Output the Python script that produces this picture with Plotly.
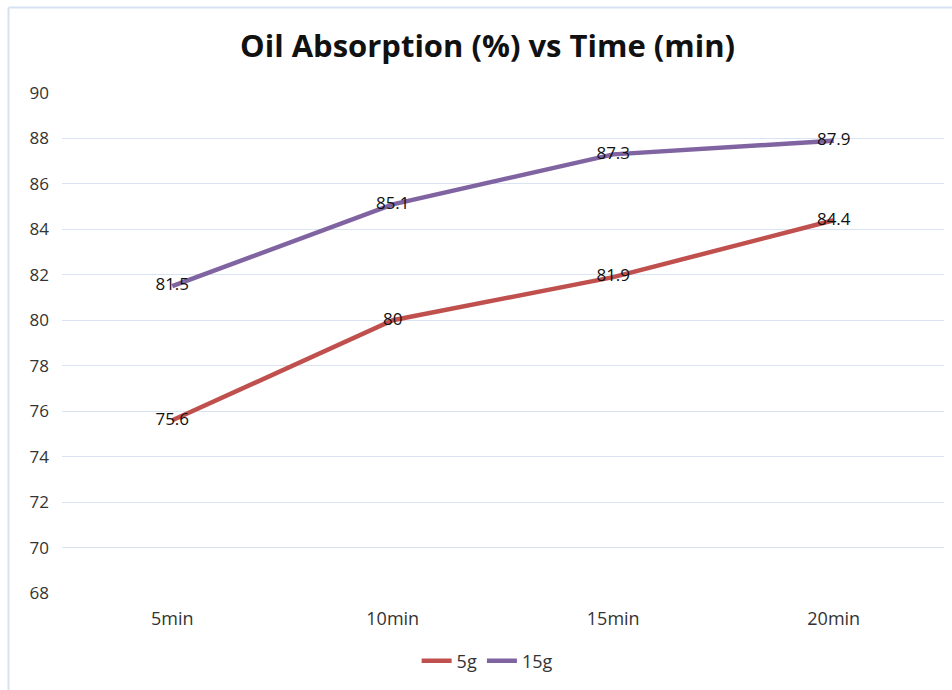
import plotly.graph_objects as go

# Frying time categories and oil absorption per sample weight
times = ["5min", "10min", "15min", "20min"]
absorption_5g = [75.6, 80, 81.9, 84.4]
absorption_15g = [81.5, 85.1, 87.3, 87.9]
y_ticks = [68, 70, 72, 74, 76, 78, 80, 82, 84, 86, 88, 90]

FONT = "Open Sans"
RED = "#C0504D"
PURPLE = "#8064A2"
GRID = "#D9E3F1"

fig = go.Figure()
for name, vals, color in [("5g", absorption_5g, RED), ("15g", absorption_15g, PURPLE)]:
    fig.add_trace(go.Scatter(
        x=times, y=vals, name=name,
        mode="lines+text",
        text=[f"{v:g}" for v in vals],
        textposition="middle center",
        textfont=dict(family=FONT, size=17, color="#111111"),
        line=dict(color=color, width=4.5),
        cliponaxis=False,
    ))

fig.update_layout(
    width=952, height=690,
    margin=dict(l=62, r=8, t=93, b=97),
    paper_bgcolor="white", plot_bgcolor="white",
    font=dict(family=FONT, size=18, color="#333333"),
    annotations=[dict(
        text="<b>Oil Absorption (%) vs Time (min)</b>",
        xref="paper", yref="paper", x=0.482, y=1.0 + (93 - 45) / 500,
        xanchor="center", yanchor="middle", showarrow=False,
        font=dict(family=FONT, size=31, color="#111111"),
    )],
    xaxis=dict(
        type="category", range=[-0.5, 3.5],
        showgrid=False, zeroline=False, showline=False,
        ticks="", tickfont=dict(family=FONT, size=18, color="#333333"),
        ticklabelstandoff=13,
    ),
    yaxis=dict(
        range=[68, 90], tickvals=y_ticks,
        showgrid=True, gridcolor=GRID, gridwidth=1.3,
        zeroline=False, showline=False, ticks="",
        tickfont=dict(family=FONT, size=17, color="#333333"),
        ticklabelstandoff=12,
    ),
    showlegend=True,
    legend=dict(
        orientation="h", x=0.482, y=(593 - 661) / 500,
        xanchor="center", yanchor="middle",
        font=dict(family=FONT, size=18, color="#333333"),
        itemwidth=30, tracegroupgap=0,
    ),
    shapes=[
        dict(type="line", xref="paper", yref="paper",
             x0=(8.5 - 62) / 882, x1=(8.5 - 62) / 882,
             y0=(593 - 700) / 500, y1=1 + (93 - 7.5) / 500,
             line=dict(color="#D6E2F2", width=2)),
        dict(type="line", xref="paper", yref="paper",
             x0=(8.5 - 62) / 882, x1=1 + 20 / 882,
             y0=1 + (93 - 7.5) / 500, y1=1 + (93 - 7.5) / 500,
             line=dict(color="#D6E2F2", width=2)),
    ],
)

fig.write_html("out.html")
